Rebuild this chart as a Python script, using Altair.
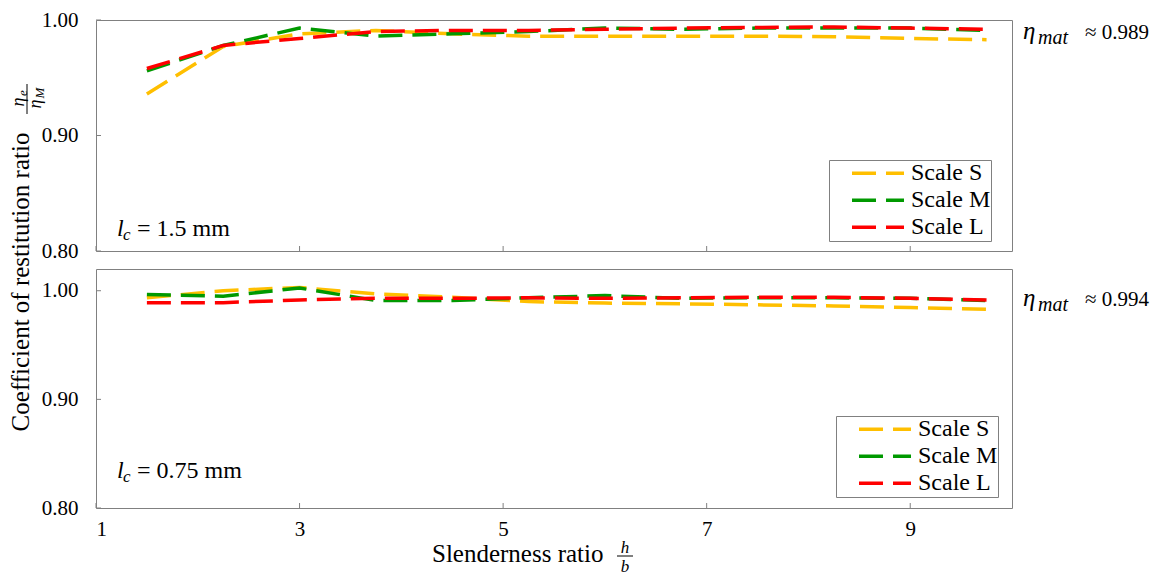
import altair as alt
import pandas as pd

# ---------------- data ----------------
x_vals = [1.5, 2.25, 3.0, 3.75, 4.5, 5.25, 6.0, 6.75, 7.5, 8.25, 9.0, 9.75]
series_names = ["Scale S", "Scale M", "Scale L"]
series_colors = ["#FFBF00", "#009900", "#FF0000"]

top_S = [0.936, 0.977, 0.988, 0.991, 0.988, 0.986, 0.986, 0.986, 0.986, 0.9855, 0.984, 0.983]
top_M = [0.956, 0.978, 0.993, 0.986, 0.988, 0.990, 0.993, 0.992, 0.993, 0.993, 0.993, 0.991]
top_L = [0.958, 0.978, 0.984, 0.990, 0.991, 0.991, 0.992, 0.993, 0.9935, 0.994, 0.993, 0.992]

bot_S = [0.9935, 1.000, 1.003, 0.997, 0.994, 0.990, 0.9886, 0.988, 0.987, 0.986, 0.9845, 0.983]
bot_M = [0.9966, 0.995, 1.0025, 0.991, 0.991, 0.9935, 0.9955, 0.993, 0.9935, 0.9935, 0.993, 0.991]
bot_L = [0.989, 0.989, 0.9915, 0.993, 0.993, 0.9935, 0.993, 0.9935, 0.994, 0.994, 0.993, 0.9915]

x_ticks = [1, 3, 5, 7, 9]
y_ticks = [0.80, 0.90, 1.00]
top_domain = [0.80, 1.00]
bot_domain = [0.80, 1.02]

eta_top = "≈ 0.989"
eta_bot = "≈ 0.994"
lc_top = "= 1.5 mm"
lc_bot = "= 0.75 mm"

FONT = "Liberation Serif"
W = 916
H1 = 231
H2 = 239
FRAME = "#808080"


def long_df(s, m, l):
    rows = []
    for name, vals in zip(series_names, [s, m, l]):
        for xv, yv in zip(x_vals, vals):
            rows.append({"x": xv, "v": yv, "series": name})
    return pd.DataFrame(rows)


def txt(text, x, y, size=21, italic=False, align="left", baseline="alphabetic",
        angle=0, dx=0, dy=0):
    kw = dict(text=text, font=FONT, fontSize=size, align=align, baseline=baseline,
              color="black", dx=dx, dy=dy)
    if italic:
        kw["fontStyle"] = "italic"
    if angle:
        kw["angle"] = angle
    return alt.Chart(pd.DataFrame({"a": [0]})).mark_text(**kw).encode(
        x=alt.value(x), y=alt.value(y))


def panel(df, dom, H, show_labels, lc_text, eta_text, lc_y, eta_y, leg_x, leg_y):
    xs = alt.Scale(domain=[1, 10], nice=False, zero=False)
    ys = alt.Scale(domain=dom, nice=False, zero=False)
    x_enc = alt.X("x:Q", scale=xs, axis=alt.Axis(
        values=x_ticks, labels=show_labels, ticks=False, domain=False, grid=False,
        title=None, labelFont=FONT, labelFontSize=21, labelColor="black",
        labelPadding=10, format="d"))
    y_enc = alt.Y("v:Q", scale=ys, axis=alt.Axis(
        values=y_ticks, format=".2f", ticks=False, domain=False, grid=False,
        title=None, labelFont=FONT, labelFontSize=21, labelColor="black",
        labelPadding=18))
    lines = alt.Chart(df).mark_line(strokeDash=[24, 10], strokeWidth=3.5).encode(
        x=x_enc, y=y_enc,
        color=alt.Color("series:N", sort=series_names,
                        scale=alt.Scale(domain=series_names, range=series_colors),
                        legend=alt.Legend(
                            title=None, orient="none", legendX=leg_x, legendY=leg_y,
                            symbolType="stroke", symbolSize=62 * 62,
                            symbolStrokeWidth=3.5, symbolDash=[24, 10],
                            symbolDashOffset=24, clipHeight=26.5,
                            labelFont=FONT, labelFontSize=24, labelColor="black",
                            labelOffset=5, strokeColor=FRAME, fillColor="white",
                            padding=0, rowPadding=0, symbolOffset=11)),
        order=alt.Order("series_order:Q"),
    ).transform_calculate(
        series_order="indexof(['Scale S','Scale M','Scale L'], datum.series)")

    xt = alt.Chart(pd.DataFrame({"t": x_ticks})).mark_rule(color=FRAME).encode(
        x=alt.X("t:Q", scale=xs), y=alt.value(H), y2=alt.value(H - 5))
    yt = alt.Chart(pd.DataFrame({"t": y_ticks})).mark_rule(color=FRAME).encode(
        y=alt.Y("t:Q", scale=ys), x=alt.value(0), x2=alt.value(5))

    layers = [xt, yt, lines,
              txt("l", 21, lc_y, size=24, italic=True),
              txt("c", 27, lc_y + 4, size=17, italic=True),
              txt(lc_text, 41, lc_y, size=24),
              txt("η", 927, eta_y, size=25, italic=True),
              txt("mat", 942, eta_y + 5, size=20, italic=True),
              txt(eta_text, 989, eta_y, size=21)]
    return layers


top_layers = panel(long_df(top_S, top_M, top_L), top_domain, H1, False,
                   lc_top, eta_top, 216, 19, 733, 140)
bot_layers = panel(long_df(bot_S, bot_M, bot_L), bot_domain, H2, True,
                   lc_bot, eta_bot, 209, 37, 740, 147)

# y-axis title (rotated) with fraction, placed in top panel coordinates
ytitle = [
    txt("Coefficient of restitution ratio", -75, 262, size=25, align="center",
        baseline="middle", angle=270),
    txt("η", -77, 79, size=18, italic=True, align="center", baseline="middle",
        angle=270, dx=-3),
    txt("e", -77, 79, size=13, italic=True, align="center", baseline="middle",
        angle=270, dx=6, dy=4),
    txt("η", -60, 79, size=18, italic=True, align="center", baseline="middle",
        angle=270, dx=-5),
    txt("M", -60, 79, size=13, italic=True, align="center", baseline="middle",
        angle=270, dx=6, dy=4),
    alt.Chart(pd.DataFrame({"a": [0]})).mark_rule(color="black", strokeWidth=1).encode(
        x=alt.value(-69), y=alt.value(64), y2=alt.value(94)),
]

# x-axis title with fraction, placed in bottom panel coordinates
xtitle = [
    txt("Slenderness ratio", 336, 293, size=25),
    txt("h", 529, 279, size=17, italic=True, align="center", baseline="middle"),
    txt("b", 529, 298, size=17, italic=True, align="center", baseline="middle"),
    alt.Chart(pd.DataFrame({"a": [0]})).mark_rule(color="black", strokeWidth=1).encode(
        x=alt.value(521), x2=alt.value(537), y=alt.value(287)),
]

top = alt.layer(*(top_layers + ytitle)).properties(width=W, height=H1)
bottom = alt.layer(*(bot_layers + xtitle)).properties(width=W, height=H2)

chart = alt.vconcat(top, bottom, spacing=18, bounds="flush").resolve_scale(
    color="independent"
).properties(
    padding={"left": 0, "top": 0, "right": 5, "bottom": 5}
).configure_view(stroke=FRAME, strokeWidth=1)

chart.save("out.html", embed_options={"renderer": "svg", "actions": False})
